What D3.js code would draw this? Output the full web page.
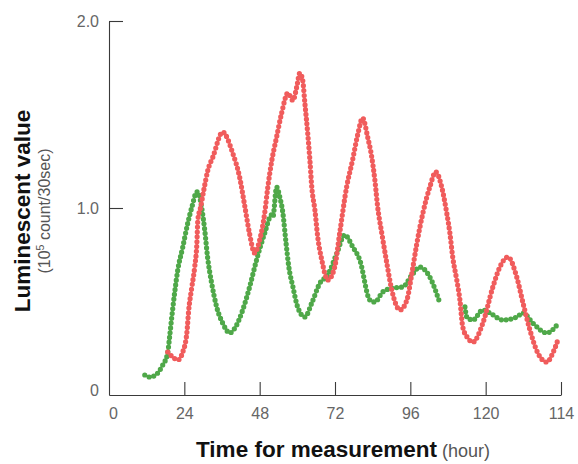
<!DOCTYPE html>
<meta charset="utf-8">
<script src="https://d3js.org/d3.v7.min.js"></script>
<style>
  body { margin: 0; background: #fff; }
  text { font-family: "Liberation Sans", Arial, sans-serif; }
</style>
<svg id="chart" width="578" height="464"></svg>
<script>

// Hours and luminescent values (10^5 count / 30 sec)
var redHours = [18.7, 20.3, 21.9, 23.5, 24.8, 25.4, 26.4, 27.3, 28.0, 28.3, 29.2, 30.2, 31.5, 33.1, 36.2,
  39.4, 41.6, 43.2, 44.8, 46.4, 48.0, 49.6, 50.6, 51.9, 53.4, 55.0, 57.0, 58.6, 59.8, 60.8, 61.7,
  62.4, 63.3, 64.0, 64.6, 65.6, 66.5, 67.8, 69.7, 71.9, 73.5, 75.7, 77.6, 79.2, 80.8, 82.4, 83.7,
  84.7, 85.6, 86.9, 88.5, 90.1, 92.7, 94.9, 96.5, 98.1, 100.0, 102.2, 104.1, 106.0, 107.6, 108.6,
  109.5, 110.8, 111.8, 112.7, 114.3, 115.9, 119.1, 122.3, 124.5, 127.1, 129.9, 131.9, 134.1, 136.6,
  139.5, 141.4, 143.0];
var redValues = [0.23, 0.203, 0.187, 0.23, 0.332, 0.455, 0.578, 0.684, 0.813, 0.936, 1.005, 1.096, 1.203, 1.273, 1.406,
  1.294, 1.166, 1.016, 0.861, 0.759, 0.829, 0.973, 1.112, 1.257, 1.38, 1.508, 1.615, 1.575, 1.647, 1.722, 1.684,
  1.561, 1.401, 1.257, 1.112, 0.989, 0.845, 0.722, 0.615, 0.684, 0.866, 1.112, 1.257, 1.39, 1.481, 1.38, 1.273,
  1.15, 1.005, 0.866, 0.706, 0.561, 0.455, 0.508, 0.652, 0.813, 0.973, 1.112, 1.193, 1.112, 0.973, 0.866,
  0.738, 0.615, 0.508, 0.364, 0.305, 0.283, 0.385, 0.578, 0.684, 0.738, 0.631, 0.492, 0.348, 0.225,
  0.176, 0.225, 0.294];

// green trace has a break between ~105 h and ~113 h (null marks the gap)
var greenHours = [11.4, 13.0, 15.2, 17.1, 18.7, 19.3, 20.0, 20.9, 21.9, 23.5, 25.1, 26.4, 28.0, 28.3, 29.5,
  30.5, 31.4, 32.7, 34.3, 36.2, 38.5, 40.1, 42.6, 44.8, 47.0, 49.6, 51.8, 52.2, 53.4, 54.4, 55.4,
  56.3, 57.3, 58.6, 60.1, 62.4, 64.6, 67.2, 69.7, 72.6, 75.1, 77.7, 79.9, 83.1, 84.7, 87.2, 90.4,
  93.6, 96.5, 99.0, 102.2, 105.4, 109.0, 113.4, 114.0, 115.9, 119.1, 121.3, 125.5, 129.9, 131.9,
  135.0, 139.5, 142.7];
var greenValues = [0.107, 0.096, 0.112, 0.16, 0.225, 0.31, 0.417, 0.545, 0.668, 0.791, 0.92, 1.005, 1.086, 1.086, 1.005,
  0.882, 0.738, 0.599, 0.471, 0.385, 0.332, 0.358, 0.455, 0.578, 0.722, 0.866, 0.963, 0.952, 1.112, 1.059, 0.973,
  0.829, 0.684, 0.578, 0.471, 0.417, 0.492, 0.599, 0.642, 0.759, 0.856, 0.791, 0.722, 0.508, 0.497, 0.551, 0.572,
  0.578, 0.642, 0.684, 0.631, 0.492, null, 0.471, 0.417, 0.401, 0.455, 0.439, 0.401, 0.417, 0.439,
  0.385, 0.332, 0.374];

var xTicks = [0, 24, 48, 72, 96, 120, 144];
var xTickLabels = ["0", "24", "48", "72", "96", "120", "114"];
var yTicks = [0, 1, 2];
var yTickLabels = ["0", "1.0", "2.0"];

var svg = d3.select("#chart");

var x = d3.scaleLinear().domain([0, 144]).range([109, 561]);
var y = d3.scaleLinear().domain([0, 2]).range([395, 21]);

// axes, ticks pointing inward
var xAxis = svg.append("g")
  .attr("transform", "translate(0," + y(0) + ")")
  .call(d3.axisBottom(x)
    .tickValues(xTicks)
    .tickFormat(function(d, i){ return xTickLabels[i] })
    .tickSizeInner(-13)
    .tickSizeOuter(0)
    .tickPadding(13));

var yAxis = svg.append("g")
  .attr("transform", "translate(" + x(0) + ",0)")
  .call(d3.axisLeft(y)
    .tickValues(yTicks)
    .tickFormat(function(d, i){ return yTickLabels[i] })
    .tickSizeInner(-14)
    .tickSizeOuter(0)
    .tickPadding(10));

svg.selectAll(".domain, .tick line")
  .attr("stroke", "#3a3a3a")
  .attr("stroke-width", 1.1);
svg.selectAll(".tick text")
  .attr("fill", "#666")
  .style("font-size", "16px")
  .style("font-family", "'Liberation Sans', Arial, sans-serif");
// the 0 ticks sit on the other axis line
xAxis.selectAll(".tick").filter(function(d){ return d === 0 }).select("line").remove();
xAxis.selectAll(".tick").filter(function(d){ return d === 0 }).select("text").attr("dx", "0.25em");
yAxis.selectAll(".tick").filter(function(d){ return d === 0 }).select("line").remove();
yAxis.selectAll(".tick").filter(function(d){ return d === 0 }).select("text").attr("dy", "0.05em");

// series as dotted traces
function draw(hours, values, colour) {
  var pts = hours.map(function(h, i){ return [h, values[i]] });
  var line = d3.line()
    .defined(function(d){ return d[1] !== null })
    .x(function(d){ return x(d[0]) })
    .y(function(d){ return y(d[1]) })
    .curve(d3.curveMonotoneX);
  svg.append("path")
    .datum(pts)
    .attr("fill", "none")
    .attr("stroke", colour)
    .attr("stroke-width", 5.2)
    .attr("stroke-linecap", "round")
    .attr("stroke-dasharray", "0 4.8")
    .attr("d", line);
}
draw(greenHours, greenValues, "#4fa849");
draw(redHours, redValues, "#f05c5c");

// axis titles
svg.append("text")
  .attr("x", 343)
  .attr("y", 457)
  .attr("text-anchor", "middle")
  .call(function(t){
    t.append("tspan").attr("font-weight", "bold").attr("font-size", 22.5).attr("fill", "#111").text("Time for measurement");
    t.append("tspan").attr("font-size", 18).attr("fill", "#555").text(" (hour)");
  });

var yl = svg.append("g").attr("transform", "translate(30,211) rotate(-90)");
yl.append("text")
  .attr("text-anchor", "middle")
  .attr("font-weight", "bold")
  .attr("font-size", 22.5)
  .attr("fill", "#111")
  .text("Luminescent value");
yl.append("text")
  .attr("y", 20)
  .attr("text-anchor", "middle")
  .attr("font-size", 16)
  .attr("fill", "#555")
  .call(function(t){
    t.append("tspan").text("(10");
    t.append("tspan").attr("font-size", 10.5).attr("dy", -6).text("5");
    t.append("tspan").attr("dy", 6).text(" count/30sec)");
  });

</script>
